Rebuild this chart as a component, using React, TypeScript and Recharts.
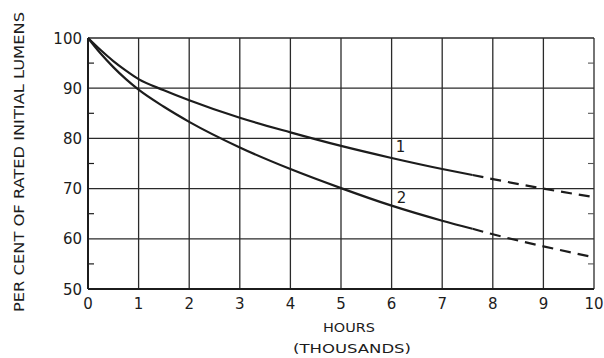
import { CartesianGrid, Label, Line, LineChart, ReferenceLine, XAxis, YAxis } from 'recharts';

// hours in thousands
const hours = [0, 0.25, 0.5, 0.75, 1, 1.5, 2, 3, 4, 5, 6, 7, 7.6, 8, 9, 10];
const lamp1 = [100, 97.6, 95.4, 93.5, 91.8, 89.6, 87.6, 84.1, 81.2, 78.5, 76.1, 73.9, 72.7, 71.9, 70.0, 68.3];
const lamp2 = [100, 96.9, 94.2, 91.8, 89.7, 86.3, 83.3, 78.2, 73.9, 70.1, 66.6, 63.6, 62.0, 60.9, 58.5, 56.3];
const dashFrom = 7.6; // curves are extrapolated (dashed) beyond this

const xTicks = [0, 1, 2, 3, 4, 5, 6, 7, 8, 9, 10];
const yMajor = [50, 60, 70, 80, 90, 100];
const yMinor = [55, 65, 75, 85, 95];
const curveNames = ['1', '2'];
const labelAt = 6;

const data = hours.map((h, i) => ({
  h,
  s1: h <= dashFrom ? lamp1[i] : null,
  d1: h >= dashFrom ? lamp1[i] : null,
  s2: h <= dashFrom ? lamp2[i] : null,
  d2: h >= dashFrom ? lamp2[i] : null,
}));

const INK = '#1c1c1c';
const FONT = '"DejaVu Sans", "Liberation Sans", sans-serif';
const TITLE_FONT = '"DejaVu Sans Condensed", "Liberation Sans", sans-serif';

function LeftTick({ x, y, payload }: any) {
  return (
    <text x={x - 6} y={y + 5.5} textAnchor="end" fontSize={15} fontFamily={FONT} fill={INK}>
      {payload.value}
    </text>
  );
}

function BottomTick({ x, y, payload }: any) {
  return (
    <text x={x} y={y + 19.5} textAnchor="middle" fontSize={15} fontFamily={FONT} fill={INK}>
      {payload.value}
    </text>
  );
}

// short inward tick marks on both side frames instead of a full grid line
function MinorTicks(p: any) {
  const left = Math.min(p.x1, p.x2);
  const right = Math.max(p.x1, p.x2);
  return (
    <g>
      <line x1={left} x2={left + 6} y1={p.y1} y2={p.y1} stroke={INK} strokeWidth={1.2} />
      <line x1={right - 6} x2={right} y1={p.y1} y2={p.y1} stroke="#555" strokeWidth={1.1} />
    </g>
  );
}

const curveLabel = (name: string, dx: number, dy: number) => (p: any) => {
  if (data[p.index]?.h !== labelAt) return <g />;
  return (
    <text x={p.x + dx} y={p.y + dy} textAnchor="middle" fontSize={15} fontFamily={FONT} fill={INK}>
      {name}
    </text>
  );
};

export default function App() {
  return (
    <div style={{ position: 'absolute', left: 0, top: 0, width: 604, height: 358, background: '#fff' }}>
      <LineChart width={604} height={358} data={data} margin={{ top: 38, right: 10, bottom: 0, left: 0 }}>
        <CartesianGrid stroke="#2a2a2a" strokeWidth={1.3} horizontalValues={yMajor} verticalValues={xTicks} />
        <XAxis
          dataKey="h"
          type="number"
          domain={[0, 10]}
          ticks={xTicks}
          height={69}
          tickSize={0}
          tickMargin={0}
          tick={<BottomTick />}
          axisLine={{ stroke: INK, strokeWidth: 2 }}
        >
          <Label
            content={({ viewBox }: any) => {
              const cx = viewBox.x + viewBox.width / 2 + 8;
              return (
                <g fontFamily={TITLE_FONT} fill={INK} fontSize={13}>
                  <text x={cx} y={332} textAnchor="middle" textLength={52} lengthAdjust="spacingAndGlyphs">
                    HOURS
                  </text>
                  <text x={cx + 3} y={353} textAnchor="middle" textLength={118} lengthAdjust="spacingAndGlyphs">
                    (THOUSANDS)
                  </text>
                </g>
              );
            }}
          />
        </XAxis>
        <YAxis
          type="number"
          domain={[50, 100]}
          ticks={yMajor}
          width={88}
          tickSize={0}
          tickMargin={0}
          tick={<LeftTick />}
          axisLine={{ stroke: INK, strokeWidth: 2 }}
          interval={0}
        >
          <Label
            content={() => (
              <text
                x={19}
                y={162}
                transform="rotate(-90 19 162)"
                dy={5}
                textAnchor="middle"
                fontSize={14}
                fontFamily={TITLE_FONT}
                fill={INK}
                textLength={300}
                lengthAdjust="spacingAndGlyphs"
              >
                PER CENT OF RATED INITIAL LUMENS
              </text>
            )}
          />
        </YAxis>
        {yMinor.map((v) => (
          <ReferenceLine key={v} y={v} shape={MinorTicks} />
        ))}
        <Line
          dataKey="s1"
          type="monotone"
          stroke={INK}
          strokeWidth={2.2}
          dot={false}
          isAnimationActive={false}
          label={curveLabel(curveNames[0], 9, -6)}
        />
        <Line dataKey="d1" type="monotone" stroke={INK} strokeWidth={2.2} strokeDasharray="11 7" dot={false} isAnimationActive={false} />
        <Line
          dataKey="s2"
          type="monotone"
          stroke={INK}
          strokeWidth={2.2}
          dot={false}
          isAnimationActive={false}
          label={curveLabel(curveNames[1], 10, -3)}
        />
        <Line dataKey="d2" type="monotone" stroke={INK} strokeWidth={2.2} strokeDasharray="11 7" dot={false} isAnimationActive={false} />
      </LineChart>
    </div>
  );
}
